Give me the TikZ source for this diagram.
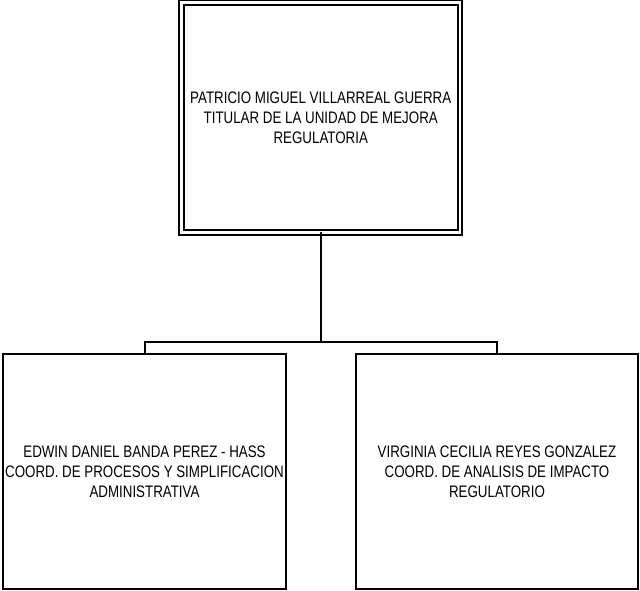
\documentclass[tikz,border=0pt]{standalone}
\usepackage{fontspec}
\setmainfont[FakeStretch=0.8]{Liberation Sans}
\begin{document}
\begin{tikzpicture}[x=0.75pt,y=-0.75pt,
  box/.style={draw, line width=1.5pt, inner sep=0pt, outer sep=0pt, align=center,
    font=\fontsize{12.5}{15}\selectfont},
  wire/.style={line width=1.5pt}]
\useasboundingbox (0,0) rectangle (640,591);
\node[box, double, double distance=2pt, minimum width=278.5*0.75pt, minimum height=230*0.75pt]
  (top) at (320.75,117.5) {PATRICIO MIGUEL VILLARREAL GUERRA\\TITULAR DE LA UNIDAD DE MEJORA\\REGULATORIA};
\node[box, minimum width=283*0.75pt, minimum height=235*0.75pt]
  (left) at (144.5,471.5) {EDWIN DANIEL BANDA PEREZ - HASS\\COORD. DE PROCESOS Y SIMPLIFICACION\\ADMINISTRATIVA};
\node[box, minimum width=282*0.75pt, minimum height=235*0.75pt]
  (right) at (497,471.5) {VIRGINIA CECILIA REYES GONZALEZ\\COORD. DE ANALISIS DE IMPACTO\\REGULATORIO};
\coordinate (bus) at (321,342);
\draw[wire] (top.south) -- (top.south |- bus);
\draw[wire] (left.north) -- (left.north |- bus) -- (right.north |- bus) -- (right.north);
\end{tikzpicture}
\end{document}
